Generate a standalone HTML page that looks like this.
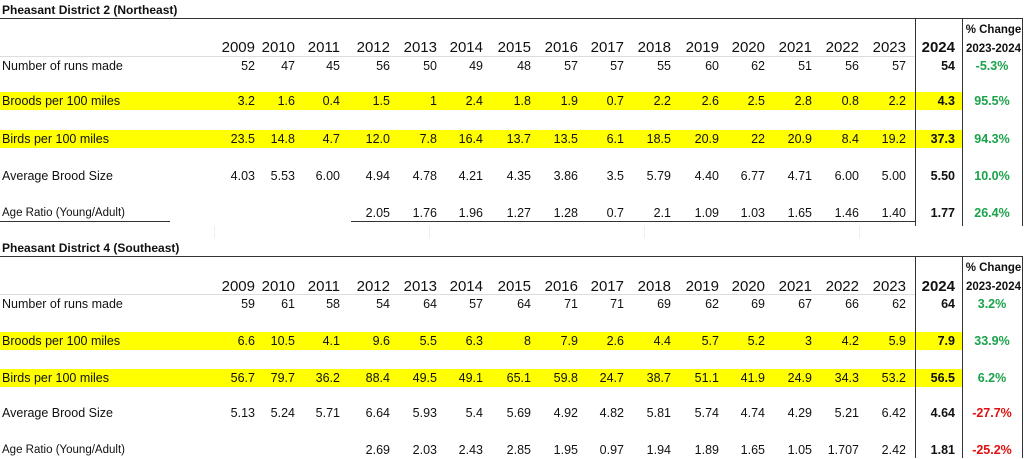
<!DOCTYPE html><html><head><style>
body{margin:0;width:1024px;height:458px;background:#fff;position:relative;overflow:hidden;font-family:"Liberation Sans",Arial,sans-serif;color:#111}
.t{position:absolute;left:2px;font-weight:bold;font-size:12px}
.row{position:absolute;left:0;height:18px;display:flex;align-items:center;font-size:12.5px;white-space:nowrap}
.row span{display:inline-block;text-align:right;flex-shrink:0}
.row span.l{width:215px;text-align:left;padding-left:2px;box-sizing:border-box}
.h{font-size:15px}
.yb{position:absolute;left:0;width:962px;height:18px;background:#ffff00}
.b{font-weight:bold}
.c{width:60px;text-align:center!important;margin-left:7px;font-weight:bold}
.g{color:#1aa34a}.r{color:#e01010}
.ln{position:absolute;background:#333}
.a{font-size:11.5px}
</style></head><body>
<div class="yb" style="top:92px"></div>
<div class="yb" style="top:130px"></div>
<div class="yb" style="top:332px"></div>
<div class="yb" style="top:369px"></div>
<div class="t" style="top:3px">Pheasant District 2 (Northeast)</div>
<div class="ln" style="left:0;top:18px;width:1023px;height:1px"></div>
<div class="ln" style="left:0;top:56px;width:915px;height:1px;background:#ddd"></div>
<div class="ln" style="left:915px;top:18px;width:1px;height:208px"></div>
<div class="ln" style="left:962px;top:18px;width:1px;height:208px"></div>
<div class="ln" style="left:1022px;top:18px;width:1px;height:208px"></div>
<div class="ln" style="left:0;top:221px;width:170px;height:1px"></div>
<div class="ln" style="left:351px;top:221px;width:564px;height:1px"></div>
<div style="position:absolute;left:965px;top:21px;width:57px;text-align:center;font-size:11.5px;font-weight:bold;line-height:19px">% Change<br>2023-2024</div>

<div class="t" style="top:241px">Pheasant District 4 (Southeast)</div>
<div class="ln" style="left:0;top:256px;width:1023px;height:1px"></div>
<div class="ln" style="left:0;top:294px;width:915px;height:1px;background:#ddd"></div>
<div class="ln" style="left:915px;top:256px;width:1px;height:202px"></div>
<div class="ln" style="left:962px;top:256px;width:1px;height:202px"></div>
<div class="ln" style="left:1022px;top:256px;width:1px;height:202px"></div>
<div style="position:absolute;left:965px;top:259px;width:57px;text-align:center;font-size:11.5px;font-weight:bold;line-height:19px">% Change<br>2023-2024</div>
<div style="position:absolute;left:0;top:226px;width:915px;height:12px;background:repeating-linear-gradient(90deg,transparent 0 214px,#eee 214px 215px)"></div>

<div class="row h" style="top:38px"><span class="l"></span><span style="width:40px">2009</span><span style="width:40px">2010</span><span style="width:45px">2011</span><span style="width:50px">2012</span><span style="width:47px">2013</span><span style="width:46px">2014</span><span style="width:48px">2015</span><span style="width:47px">2016</span><span style="width:46px">2017</span><span style="width:47px">2018</span><span style="width:48px">2019</span><span style="width:46px">2020</span><span style="width:47px">2021</span><span style="width:47px">2022</span><span style="width:47px">2023</span><span class="b" style="width:49px">2024</span></div>
<div class="row" style="top:57px"><span class="l">Number of runs made</span><span style="width:40px">52</span><span style="width:40px">47</span><span style="width:45px">45</span><span style="width:50px">56</span><span style="width:47px">50</span><span style="width:46px">49</span><span style="width:48px">48</span><span style="width:47px">57</span><span style="width:46px">57</span><span style="width:47px">55</span><span style="width:48px">60</span><span style="width:46px">62</span><span style="width:47px">51</span><span style="width:47px">56</span><span style="width:47px">57</span><span class="b" style="width:49px">54</span><span class="c g">-5.3%</span></div>
<div class="row" style="top:92px"><span class="l">Broods per 100 miles</span><span style="width:40px">3.2</span><span style="width:40px">1.6</span><span style="width:45px">0.4</span><span style="width:50px">1.5</span><span style="width:47px">1</span><span style="width:46px">2.4</span><span style="width:48px">1.8</span><span style="width:47px">1.9</span><span style="width:46px">0.7</span><span style="width:47px">2.2</span><span style="width:48px">2.6</span><span style="width:46px">2.5</span><span style="width:47px">2.8</span><span style="width:47px">0.8</span><span style="width:47px">2.2</span><span class="b" style="width:49px">4.3</span><span class="c g">95.5%</span></div>
<div class="row" style="top:130px"><span class="l">Birds per 100 miles</span><span style="width:40px">23.5</span><span style="width:40px">14.8</span><span style="width:45px">4.7</span><span style="width:50px">12.0</span><span style="width:47px">7.8</span><span style="width:46px">16.4</span><span style="width:48px">13.7</span><span style="width:47px">13.5</span><span style="width:46px">6.1</span><span style="width:47px">18.5</span><span style="width:48px">20.9</span><span style="width:46px">22</span><span style="width:47px">20.9</span><span style="width:47px">8.4</span><span style="width:47px">19.2</span><span class="b" style="width:49px">37.3</span><span class="c g">94.3%</span></div>
<div class="row" style="top:167px"><span class="l">Average Brood Size</span><span style="width:40px">4.03</span><span style="width:40px">5.53</span><span style="width:45px">6.00</span><span style="width:50px">4.94</span><span style="width:47px">4.78</span><span style="width:46px">4.21</span><span style="width:48px">4.35</span><span style="width:47px">3.86</span><span style="width:46px">3.5</span><span style="width:47px">5.79</span><span style="width:48px">4.40</span><span style="width:46px">6.77</span><span style="width:47px">4.71</span><span style="width:47px">6.00</span><span style="width:47px">5.00</span><span class="b" style="width:49px">5.50</span><span class="c g">10.0%</span></div>
<div class="row" style="top:204px"><span class="l a">Age Ratio (Young/Adult)</span><span style="width:40px"></span><span style="width:40px"></span><span style="width:45px"></span><span style="width:50px">2.05</span><span style="width:47px">1.76</span><span style="width:46px">1.96</span><span style="width:48px">1.27</span><span style="width:47px">1.28</span><span style="width:46px">0.7</span><span style="width:47px">2.1</span><span style="width:48px">1.09</span><span style="width:46px">1.03</span><span style="width:47px">1.65</span><span style="width:47px">1.46</span><span style="width:47px">1.40</span><span class="b" style="width:49px">1.77</span><span class="c g">26.4%</span></div>

<div class="row h" style="top:277px"><span class="l"></span><span style="width:40px">2009</span><span style="width:40px">2010</span><span style="width:45px">2011</span><span style="width:50px">2012</span><span style="width:47px">2013</span><span style="width:46px">2014</span><span style="width:48px">2015</span><span style="width:47px">2016</span><span style="width:46px">2017</span><span style="width:47px">2018</span><span style="width:48px">2019</span><span style="width:46px">2020</span><span style="width:47px">2021</span><span style="width:47px">2022</span><span style="width:47px">2023</span><span class="b" style="width:49px">2024</span></div>
<div class="row" style="top:295px"><span class="l">Number of runs made</span><span style="width:40px">59</span><span style="width:40px">61</span><span style="width:45px">58</span><span style="width:50px">54</span><span style="width:47px">64</span><span style="width:46px">57</span><span style="width:48px">64</span><span style="width:47px">71</span><span style="width:46px">71</span><span style="width:47px">69</span><span style="width:48px">62</span><span style="width:46px">69</span><span style="width:47px">67</span><span style="width:47px">66</span><span style="width:47px">62</span><span class="b" style="width:49px">64</span><span class="c g">3.2%</span></div>
<div class="row" style="top:332px"><span class="l">Broods per 100 miles</span><span style="width:40px">6.6</span><span style="width:40px">10.5</span><span style="width:45px">4.1</span><span style="width:50px">9.6</span><span style="width:47px">5.5</span><span style="width:46px">6.3</span><span style="width:48px">8</span><span style="width:47px">7.9</span><span style="width:46px">2.6</span><span style="width:47px">4.4</span><span style="width:48px">5.7</span><span style="width:46px">5.2</span><span style="width:47px">3</span><span style="width:47px">4.2</span><span style="width:47px">5.9</span><span class="b" style="width:49px">7.9</span><span class="c g">33.9%</span></div>
<div class="row" style="top:369px"><span class="l">Birds per 100 miles</span><span style="width:40px">56.7</span><span style="width:40px">79.7</span><span style="width:45px">36.2</span><span style="width:50px">88.4</span><span style="width:47px">49.5</span><span style="width:46px">49.1</span><span style="width:48px">65.1</span><span style="width:47px">59.8</span><span style="width:46px">24.7</span><span style="width:47px">38.7</span><span style="width:48px">51.1</span><span style="width:46px">41.9</span><span style="width:47px">24.9</span><span style="width:47px">34.3</span><span style="width:47px">53.2</span><span class="b" style="width:49px">56.5</span><span class="c g">6.2%</span></div>
<div class="row" style="top:404px"><span class="l">Average Brood Size</span><span style="width:40px">5.13</span><span style="width:40px">5.24</span><span style="width:45px">5.71</span><span style="width:50px">6.64</span><span style="width:47px">5.93</span><span style="width:46px">5.4</span><span style="width:48px">5.69</span><span style="width:47px">4.92</span><span style="width:46px">4.82</span><span style="width:47px">5.81</span><span style="width:48px">5.74</span><span style="width:46px">4.74</span><span style="width:47px">4.29</span><span style="width:47px">5.21</span><span style="width:47px">6.42</span><span class="b" style="width:49px">4.64</span><span class="c r">-27.7%</span></div>
<div class="row" style="top:441px"><span class="l a">Age Ratio (Young/Adult)</span><span style="width:40px"></span><span style="width:40px"></span><span style="width:45px"></span><span style="width:50px">2.69</span><span style="width:47px">2.03</span><span style="width:46px">2.43</span><span style="width:48px">2.85</span><span style="width:47px">1.95</span><span style="width:46px">0.97</span><span style="width:47px">1.94</span><span style="width:48px">1.89</span><span style="width:46px">1.65</span><span style="width:47px">1.05</span><span style="width:47px">1.707</span><span style="width:47px">2.42</span><span class="b" style="width:49px">1.81</span><span class="c r">-25.2%</span></div>
</body></html>
